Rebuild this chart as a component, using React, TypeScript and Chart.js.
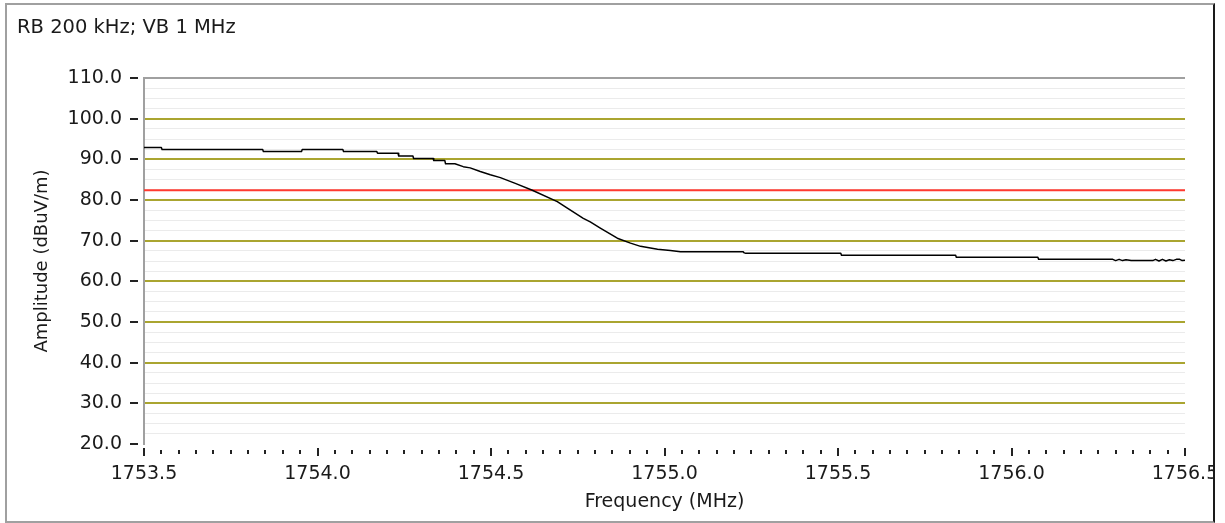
import React, { useEffect, useRef } from "react";
import { Chart, registerables } from "chart.js";

Chart.register(...registerables);

// ---- data ----
const HEADER_TEXT = "RB 200 kHz; VB 1 MHz";
const X_TITLE = "Frequency (MHz)";
const Y_TITLE = "Amplitude (dBuV/m)";

const X_MIN = 1753.5;
const X_MAX = 1756.5;
const X_STEP = 0.05; // minor tick spacing
const X_LABEL_STEP = 0.5;

const Y_MIN = 20;
const Y_MAX = 110;
const Y_STEP = 2.5; // minor grid spacing
const Y_LABEL_STEP = 10;

const LIMIT_DBUV = 82.4;

const FREQ_MHZ = [
  1753.5, 1753.55, 1753.552, 1753.842, 1753.844, 1753.954, 1753.956, 1754.073,
  1754.075, 1754.171, 1754.173, 1754.232, 1754.234, 1754.275, 1754.277, 1754.333,
  1754.335, 1754.367, 1754.369, 1754.396, 1754.42, 1754.44, 1754.469, 1754.498,
  1754.527, 1754.57, 1754.619, 1754.691, 1754.72, 1754.766, 1754.786, 1754.815,
  1754.864, 1754.902, 1754.931, 1754.98, 1755.017, 1755.046, 1755.226, 1755.23,
  1755.234, 1755.508, 1755.51, 1755.839, 1755.841, 1756.076, 1756.078, 1756.292,
  1756.3, 1756.31, 1756.32, 1756.33, 1756.345, 1756.373, 1756.407, 1756.415,
  1756.425, 1756.435, 1756.445, 1756.455, 1756.465, 1756.475, 1756.485, 1756.492,
  1756.5,
];

const AMP_DBUV = [
  92.9, 92.9, 92.4, 92.4, 91.9, 91.9, 92.4, 92.4,
  91.9, 91.9, 91.5, 91.5, 90.8, 90.8, 90.2, 90.2,
  89.7, 89.7, 88.9, 88.9, 88.2, 87.9, 87.0, 86.2,
  85.5, 84.1, 82.4, 79.6, 78.0, 75.5, 74.6, 73.1,
  70.6, 69.4, 68.6, 67.9, 67.6, 67.3, 67.3, 67.0,
  66.9, 66.9, 66.4, 66.4, 65.9, 65.9, 65.4, 65.4,
  65.1, 65.4, 65.1, 65.3, 65.1, 65.1, 65.1, 65.4,
  65.0, 65.4, 65.0, 65.3, 65.1, 65.4, 65.4, 65.1,
  65.2,
];

const FONT_FAMILY = "'DejaVu Sans', Verdana, sans-serif";
const TEXT_COLOR = "#1a1a1a";
const OLIVE = "#aaa530";
const MINOR_GRID = "#ebebeb";
const BORDER_GRAY = "#a0a0a0";
const LIMIT_RED = "#ff3a30";

const isMultiple = (v: number, step: number) =>
  Math.abs(v / step - Math.round(v / step)) < 1e-6;

const decorPlugin = {
  id: "decor",
  afterDraw(chart: any) {
    const ctx = chart.ctx;
    const area = chart.chartArea;
    const xs = chart.scales.x;
    const ys = chart.scales.y;
    ctx.save();
    // header text
    ctx.fillStyle = TEXT_COLOR;
    ctx.font = `19.5px ${FONT_FAMILY}`;
    ctx.textBaseline = "alphabetic";
    ctx.textAlign = "left";
    ctx.fillText(HEADER_TEXT, 17, 33);

    // y dash tick marks
    ctx.strokeStyle = "#222";
    ctx.lineWidth = 2;
    ys.ticks.forEach((t: any) => {
      if (!isMultiple(t.value, Y_LABEL_STEP)) return;
      const y = Math.round(ys.getPixelForValue(t.value));
      ctx.beginPath();
      ctx.moveTo(area.left - 14, y);
      ctx.lineTo(area.left - 6, y);
      ctx.stroke();
    });

    // x tick marks (major / minor)
    xs.ticks.forEach((t: any) => {
      const x = Math.round(xs.getPixelForValue(t.value));
      const major = isMultiple(t.value, X_LABEL_STEP);
      ctx.beginPath();
      ctx.moveTo(x, area.bottom + (major ? 4 : 6));
      ctx.lineTo(x, area.bottom + (major ? 12 : 10));
      ctx.stroke();
    });
    ctx.restore();
  },
};

export default function App() {
  const canvasRef = useRef<HTMLCanvasElement | null>(null);

  useEffect(() => {
    if (!canvasRef.current) return;
    const trace = FREQ_MHZ.map((f, i) => ({ x: f, y: AMP_DBUV[i] }));
    const limit = [
      { x: X_MIN, y: LIMIT_DBUV },
      { x: X_MAX, y: LIMIT_DBUV },
    ];
    const chart = new Chart(canvasRef.current, {
      type: "line",
      data: {
        datasets: [
          {
            label: "Trace",
            data: trace,
            borderColor: "#000000",
            borderWidth: 1.5,
            borderJoinStyle: "round",
            pointRadius: 0,
            tension: 0,
          },
          {
            label: "Limit",
            data: limit,
            borderColor: LIMIT_RED,
            borderWidth: 2,
            pointRadius: 0,
            tension: 0,
          },
        ],
      },
      options: {
        animation: false,
        responsive: false,
        devicePixelRatio: 1,
        layout: { padding: { top: 78, right: 40, bottom: 0, left: 0 } },
        plugins: {
          legend: { display: false },
          tooltip: { enabled: false },
          title: { display: false },
        },
        scales: {
          x: {
            type: "linear",
            min: X_MIN,
            max: X_MAX,
            afterFit: (s: any) => {
              s.height = 79;
              s.paddingLeft = 0;
              s.paddingRight = 0;
            },
            border: { display: false },
            grid: { drawOnChartArea: false, drawTicks: false, display: true, color: "rgba(0,0,0,0)" },
            ticks: {
              stepSize: X_STEP,
              autoSkip: false,
              maxRotation: 0,
              minRotation: 0,
              padding: 19,
              color: TEXT_COLOR,
              font: { family: FONT_FAMILY, size: 19 },
              callback: (v: any) => (isMultiple(Number(v), X_LABEL_STEP) ? Number(v).toFixed(1) : ""),
            },
            title: {
              display: true,
              text: X_TITLE,
              color: TEXT_COLOR,
              font: { family: FONT_FAMILY, size: 19 },
              padding: { top: 0, bottom: 10 },
            },
          },
          y: {
            type: "linear",
            min: Y_MIN,
            max: Y_MAX,
            afterFit: (s: any) => {
              s.width = 144;
            },
            border: { display: true, color: BORDER_GRAY, width: 2 },
            grid: {
              drawTicks: false,
              color: (c: any) => {
                const v = c.tick ? c.tick.value : 0;
                if (Math.abs(v - Y_MAX) < 1e-6) return BORDER_GRAY;
                if (Math.abs(v - Y_MIN) < 1e-6) return "rgba(0,0,0,0)";
                return isMultiple(v, Y_LABEL_STEP) ? OLIVE : MINOR_GRID;
              },
              lineWidth: (c: any) => {
                const v = c.tick ? c.tick.value : 0;
                return isMultiple(v, Y_LABEL_STEP) ? 2 : 1;
              },
            },
            ticks: {
              stepSize: Y_STEP,
              autoSkip: false,
              padding: 22,
              color: TEXT_COLOR,
              font: { family: FONT_FAMILY, size: 19 },
              callback: (v: any) => (isMultiple(Number(v), Y_LABEL_STEP) ? Number(v).toFixed(1) : ""),
            },
            title: {
              display: true,
              text: Y_TITLE,
              color: TEXT_COLOR,
              font: { family: FONT_FAMILY, size: 18 },
              padding: { top: 32, bottom: 0 },
            },
          },
        },
      },
      plugins: [decorPlugin],
    });
    return () => chart.destroy();
  }, []);

  return (
    <div style={{ position: "absolute", left: 0, top: 0, width: 1225, height: 523, background: "#fff" }}>
      <canvas ref={canvasRef} width={1225} height={523} style={{ display: "block", width: 1225, height: 523 }} />
      <div
        style={{
          position: "absolute",
          left: 1215,
          top: 0,
          width: 10,
          height: 523,
          background: "#fff",
        }}
      />
      <div
        style={{
          position: "absolute",
          left: 5,
          top: 3,
          width: 1210,
          height: 520,
          boxSizing: "border-box",
          borderLeft: `2px solid ${BORDER_GRAY}`,
          borderTop: `2px solid ${BORDER_GRAY}`,
          borderBottom: `2px solid ${BORDER_GRAY}`,
          borderRight: "2px solid #1a1a1a",
          pointerEvents: "none",
        }}
      />
    </div>
  );
}
